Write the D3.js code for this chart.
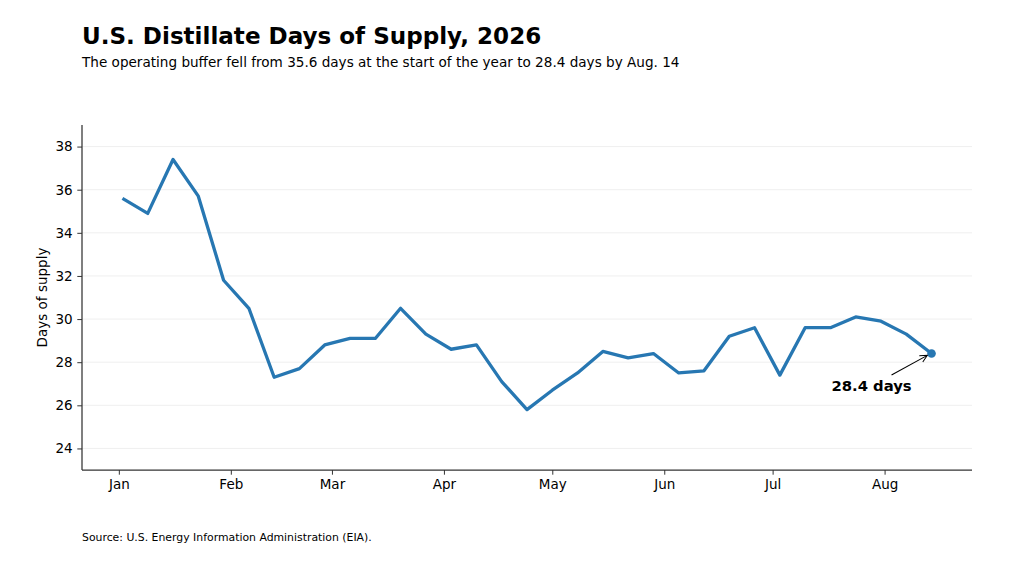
<!DOCTYPE html>
<html>
  <head>
    <title>U.S. Distillate Days of Supply, 2026</title>
    <meta charset="UTF-8">
    <style>
      body {
        margin: 0;
        background: #fff;
        font-family: "DejaVu Sans", sans-serif;
      }
      text {
        font-family: "DejaVu Sans", sans-serif;
      }
      .title {
        font-size: 23.05px;
        font-weight: bold;
        fill: #000;
      }
      .subtitle {
        font-size: 13.58px;
        fill: #000;
      }
      .source {
        font-size: 10.86px;
        fill: #000;
      }
      .tick text {
        font-size: 13.5px;
        fill: #000;
      }
      .axis path, .tick line {
        stroke: #333;
      }
      .grid line {
        stroke: #ebebeb;
        stroke-width: 0.8;
      }
      .line {
        fill: none;
        stroke: #2777b2;
        stroke-width: 3.3;
        stroke-linejoin: round;
        stroke-linecap: butt;
      }
    </style>
    <script src="https://d3js.org/d3.v7.min.js"></script>
  </head>
  <body>
    <div id="chart"></div>

<script>
  // weekly readings, days of supply
  var weekDates = [
    "2026-01-02", "2026-01-09", "2026-01-16", "2026-01-23", "2026-01-30",
    "2026-02-06", "2026-02-13", "2026-02-20", "2026-02-27",
    "2026-03-06", "2026-03-13", "2026-03-20", "2026-03-27",
    "2026-04-03", "2026-04-10", "2026-04-17", "2026-04-24",
    "2026-05-01", "2026-05-08", "2026-05-15", "2026-05-22", "2026-05-29",
    "2026-06-05", "2026-06-12", "2026-06-19", "2026-06-26",
    "2026-07-03", "2026-07-10", "2026-07-17", "2026-07-24", "2026-07-31",
    "2026-08-07", "2026-08-14"
  ];
  var daysOfSupply = [
    35.6, 34.9, 37.4, 35.7, 31.8,
    30.5, 27.3, 27.7, 28.8,
    29.1, 29.1, 30.5, 29.3,
    28.6, 28.8, 27.1, 25.8,
    26.7, 27.5, 28.5, 28.2, 28.4,
    27.5, 27.6, 29.2, 29.6,
    27.4, 29.6, 29.6, 30.1, 29.9,
    29.3, 28.4
  ];
  var yTicks = [24, 26, 28, 30, 32, 34, 36, 38];
  var monthTicks = ["2026-01-01", "2026-02-01", "2026-03-01", "2026-04-01",
                    "2026-05-01", "2026-06-01", "2026-07-01", "2026-08-01"];
  var monthLabels = ["Jan", "Feb", "Mar", "Apr", "May", "Jun", "Jul", "Aug"];

  var parseDate = d3.timeParse("%Y-%m-%d");
  var data = weekDates.map(function(d, i) {
    return {date: parseDate(d), value: daysOfSupply[i]};
  });

  var W = 1024, H = 566;
  var margin = {top: 125, right: 52, bottom: 96, left: 82},
      width = W - margin.left - margin.right,
      height = H - margin.top - margin.bottom;

  var svg = d3.select("#chart")
    .append("svg")
      .attr("width", W)
      .attr("height", H);

  // title block
  svg.append("text").attr("class", "title")
    .attr("x", 82).attr("y", 44)
    .text("U.S. Distillate Days of Supply, 2026");
  svg.append("text").attr("class", "subtitle")
    .attr("x", 82).attr("y", 66.5)
    .text("The operating buffer fell from 35.6 days at the start of the year to 28.4 days by Aug. 14");
  svg.append("text").attr("class", "source")
    .attr("x", 82).attr("y", 541)
    .text("Source: U.S. Energy Information Administration (EIA).");

  var g = svg.append("g")
    .attr("transform", "translate(" + margin.left + "," + margin.top + ")");

  // 5% padding either side of the data, like matplotlib's default margins
  var ext = d3.extent(data, function(d) { return d.date; });
  var pad = (ext[1] - ext[0]) * 0.05;
  var x = d3.scaleTime()
    .domain([new Date(+ext[0] - pad), new Date(+ext[1] + pad)])
    .range([0, width]);
  var y = d3.scaleLinear()
    .domain([23, 39])
    .range([height, 0]);

  // horizontal grid
  g.append("g").attr("class", "grid")
    .selectAll("line")
    .data(yTicks).enter()
    .append("line")
      .attr("x1", 0).attr("x2", width)
      .attr("y1", function(d) { return y(d); })
      .attr("y2", function(d) { return y(d); });

  var yAxis = g.append("g").attr("class", "axis")
    .call(d3.axisLeft(y).tickValues(yTicks).tickSize(4.7).tickPadding(4.7));
  var xAxis = g.append("g").attr("class", "axis")
    .attr("transform", "translate(0," + height + ")")
    .call(d3.axisBottom(x)
      .tickValues(monthTicks.map(parseDate))
      .tickFormat(function(d, i) { return monthLabels[i]; })
      .tickSize(4.7).tickPadding(4.7));

  // drop the outer tick caps so the spines are plain lines
  yAxis.select(".domain").attr("d", "M0,0V" + height).attr("stroke-width", 1.25);
  xAxis.select(".domain").attr("d", "M0,0H" + width).attr("stroke-width", 1.25);
  g.selectAll(".tick line").attr("stroke-width", 1);

  g.append("text")
    .attr("transform", "translate(-35.5," + (height / 2) + ") rotate(-90)")
    .attr("text-anchor", "middle")
    .style("font-size", "13.5px")
    .text("Days of supply");

  g.append("path")
    .datum(data)
    .attr("class", "line")
    .attr("d", d3.line()
      .x(function(d) { return x(d.date); })
      .y(function(d) { return y(d.value); }));

  // last point + annotation
  var last = data[data.length - 1];
  var lx = x(last.date), ly = y(last.value);
  g.append("circle")
    .attr("cx", lx).attr("cy", ly).attr("r", 4.3)
    .attr("fill", "#2777b2");

  svg.append("defs").append("marker")
    .attr("id", "head")
    .attr("viewBox", "0 0 10 10")
    .attr("refX", 9).attr("refY", 5)
    .attr("markerWidth", 9).attr("markerHeight", 9)
    .attr("markerUnits", "userSpaceOnUse")
    .attr("orient", "auto")
    .append("path")
      .attr("d", "M1,1 L9,5 L1,9")
      .attr("fill", "none")
      .attr("stroke", "#000")
      .attr("stroke-width", 1.1);

  g.append("line")
    .attr("x1", lx - 40).attr("y1", ly + 21.5)
    .attr("x2", lx - 4.2).attr("y2", ly + 1.8)
    .attr("stroke", "#000")
    .attr("stroke-width", 1.1)
    .attr("marker-end", "url(#head)");

  g.append("text")
    .attr("x", lx - 60).attr("y", ly + 37.8)
    .attr("text-anchor", "middle")
    .style("font-size", "14.8px")
    .style("font-weight", "bold")
    .text("28.4 days");
</script>
</body>
</html>
